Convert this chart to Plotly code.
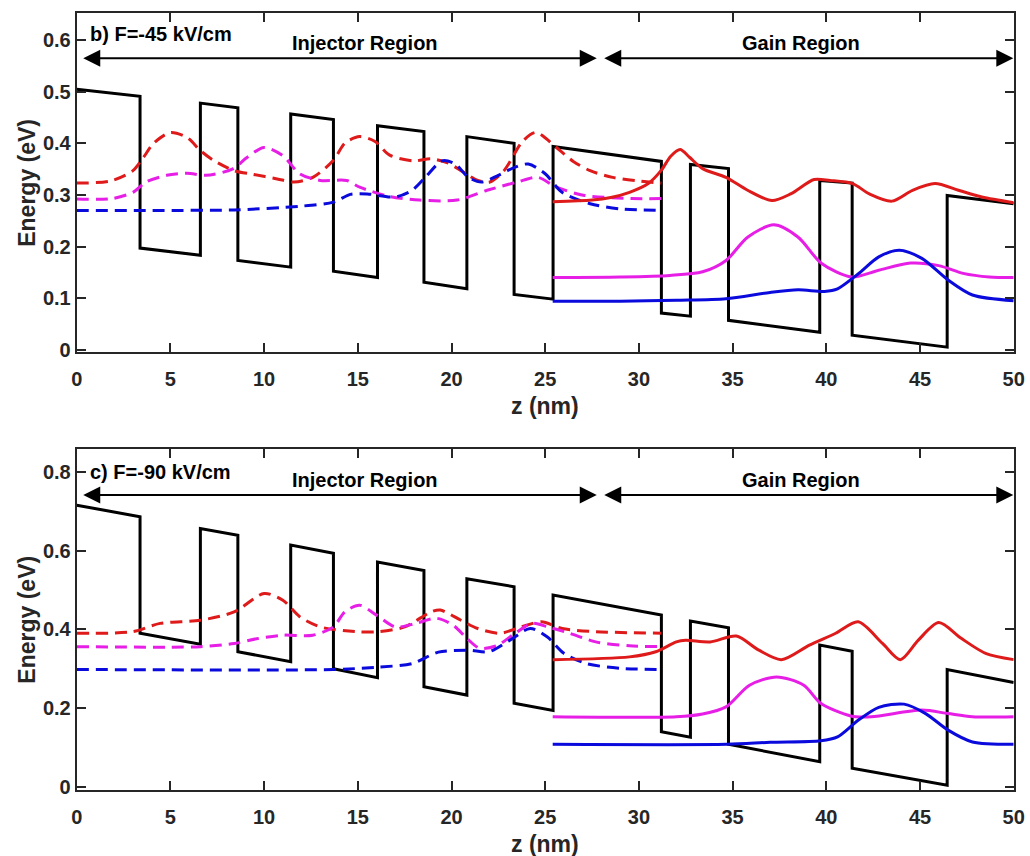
import plotly.graph_objects as go

# ---------------- conduction band edge (same layer sequence in both panels) ----------------
Z_CB = [0, 3.38, 3.38, 6.6, 6.6, 8.6, 8.6, 11.42, 11.42, 13.7, 13.7, 16.05, 16.05,
        18.53, 18.53, 20.82, 20.82, 23.34, 23.34, 25.42, 25.42, 31.2, 31.2, 32.75,
        32.75, 34.78, 34.78, 39.65, 39.65, 41.38, 41.38, 46.45, 46.45, 50]
E_CB_45 = [0.505, 0.491, 0.197, 0.183, 0.478, 0.469, 0.173, 0.160, 0.457, 0.446,
           0.152, 0.140, 0.434, 0.423, 0.131, 0.118, 0.413, 0.400, 0.107, 0.098,
           0.394, 0.365, 0.071, 0.065, 0.359, 0.351, 0.057, 0.034, 0.328, 0.323,
           0.028, 0.005, 0.299, 0.283]
E_CB_90 = [0.715, 0.686, 0.390, 0.362, 0.656, 0.639, 0.343, 0.318, 0.614, 0.593,
           0.300, 0.277, 0.571, 0.549, 0.254, 0.233, 0.528, 0.508, 0.212, 0.194,
           0.487, 0.436, 0.140, 0.126, 0.421, 0.404, 0.108, 0.064, 0.360, 0.344,
           0.047, 0.004, 0.298, 0.265]

# ---------------- F = -45 kV/cm : injector states (dashed) ----------------
Z_RED_INJ_45 = [0, 1.8, 3.0, 3.55, 4.1, 5.0, 5.9, 6.6, 7.3, 8.4, 9.4, 10.7, 11.6, 12.6,
                13.7, 14.3, 15.1, 15.9, 16.7, 18.0, 18.9, 19.8, 20.6, 21.4, 22.05,
                22.8, 23.8, 24.5, 25.6, 26.5, 27.4, 28.6, 30.0, 31.2]
E_RED_INJ_45 = [0.323, 0.327, 0.347, 0.372, 0.400, 0.421, 0.411, 0.386, 0.367, 0.347,
                0.340, 0.331, 0.325, 0.334, 0.367, 0.400, 0.413, 0.404, 0.377, 0.366,
                0.370, 0.362, 0.345, 0.328, 0.325, 0.347, 0.404, 0.421, 0.392, 0.365,
                0.347, 0.334, 0.327, 0.323]
Z_MAG_INJ_45 = [0, 1.9, 3.0, 3.7, 4.8, 5.9, 6.9, 8.3, 9.1, 10.0, 11.0, 11.9, 13.0, 14.4,
                15.1, 16.7, 18.3, 20.3, 21.9, 23.5, 24.6, 25.6, 27.1, 29.6, 31.2]
E_MAG_INJ_45 = [0.292, 0.293, 0.305, 0.325, 0.338, 0.342, 0.338, 0.350, 0.373, 0.392,
                0.376, 0.341, 0.328, 0.328, 0.315, 0.297, 0.290, 0.290, 0.309, 0.325,
                0.334, 0.315, 0.299, 0.293, 0.293]
Z_BLU_INJ_45 = [0, 4.0, 8.4, 11.9, 13.7, 14.6, 15.5, 17.0, 17.9, 18.6, 19.5, 20.2, 20.9,
                21.6, 22.5, 23.4, 24.1, 25.0, 25.9, 27.4, 29.0, 31.2]
E_BLU_INJ_45 = [0.270, 0.270, 0.271, 0.278, 0.286, 0.301, 0.302, 0.296, 0.309, 0.334,
                0.366, 0.360, 0.334, 0.325, 0.338, 0.354, 0.360, 0.341, 0.305, 0.283,
                0.273, 0.270]

# ---------------- F = -45 kV/cm : gain states (solid) ----------------
Z_RED_GAIN_45 = [25.4, 27.5, 28.5, 29.5, 30.5, 31.2, 31.7, 32.2, 32.7, 33.4, 34.65, 35.8,
                 37.1, 38.1, 39.35, 40.2, 41.4, 42.3, 43.5, 44.6, 45.8, 47.05, 48.3, 50]
E_RED_GAIN_45 = [0.287, 0.290, 0.295, 0.305, 0.322, 0.348, 0.375, 0.388, 0.373, 0.351,
                 0.334, 0.309, 0.289, 0.302, 0.330, 0.328, 0.322, 0.302, 0.288, 0.309,
                 0.322, 0.309, 0.296, 0.285]
Z_MAG_GAIN_45 = [25.4, 29.0, 31.66, 33.4, 34.65, 35.8, 37.2, 38.5, 39.75, 41.35, 42.8,
                 44.5, 46.0, 47.3, 48.7, 50]
E_MAG_GAIN_45 = [0.140, 0.141, 0.144, 0.151, 0.173, 0.218, 0.242, 0.218, 0.167, 0.141,
                 0.154, 0.168, 0.163, 0.148, 0.141, 0.140]
Z_BLU_GAIN_45 = [25.4, 29.0, 32.0, 34.65, 37.0, 38.5, 39.9, 40.6, 41.7, 42.8, 43.9, 45.1,
                 46.5, 47.8, 50]
E_BLU_GAIN_45 = [0.094, 0.094, 0.096, 0.099, 0.111, 0.116, 0.113, 0.118, 0.147, 0.180,
                 0.193, 0.177, 0.135, 0.106, 0.095]

# ---------------- F = -90 kV/cm : injector states (dashed) ----------------
Z_RED_INJ_90 = [0, 3.0, 4.45, 6.6, 8.4, 10.0, 11.0, 11.9, 13.0, 14.9, 16.1, 17.5, 18.9,
                19.4, 20.5, 21.4, 22.6, 23.7, 24.8, 25.9, 27.7, 31.2]
E_RED_INJ_90 = [0.390, 0.394, 0.415, 0.423, 0.444, 0.491, 0.474, 0.432, 0.406, 0.394,
                0.394, 0.406, 0.444, 0.449, 0.423, 0.402, 0.390, 0.406, 0.419, 0.402,
                0.394, 0.390]
Z_MAG_INJ_90 = [0, 6.6, 8.4, 9.6, 11.0, 12.6, 13.7, 14.3, 15.1, 16.0, 17.0, 18.1, 19.2,
                20.1, 20.8, 21.5, 22.4, 23.4, 24.3, 25.2, 26.3, 27.7, 29.5, 31.2]
E_MAG_INJ_90 = [0.356, 0.356, 0.364, 0.376, 0.385, 0.385, 0.406, 0.444, 0.461, 0.436,
                0.406, 0.415, 0.428, 0.410, 0.378, 0.352, 0.358, 0.390, 0.415, 0.405,
                0.390, 0.368, 0.358, 0.356]
Z_BLU_INJ_90 = [0, 13.7, 16.1, 17.9, 19.3, 20.9, 22.0, 23.1, 24.2, 25.1, 26.0, 27.2,
                29.0, 31.2]
E_BLU_INJ_90 = [0.298, 0.298, 0.304, 0.313, 0.342, 0.347, 0.343, 0.372, 0.402, 0.381,
                0.339, 0.313, 0.301, 0.298]

# ---------------- F = -90 kV/cm : gain states (solid) ----------------
Z_RED_GAIN_90 = [25.4, 29.5, 30.9, 32.0, 32.5, 33.8, 35.2, 36.4, 37.6, 39.1, 40.5, 41.7,
                 43.0, 43.95, 44.9, 46.0, 47.2, 48.5, 50]
E_RED_GAIN_90 = [0.323, 0.330, 0.343, 0.368, 0.372, 0.368, 0.383, 0.347, 0.323, 0.360,
                 0.390, 0.419, 0.364, 0.323, 0.372, 0.417, 0.377, 0.339, 0.323]
Z_MAG_GAIN_90 = [25.4, 32.0, 33.4, 34.65, 35.9, 37.35, 38.8, 39.7, 41.3, 42.4, 45.1,
                 46.5, 47.8, 50]
E_MAG_GAIN_90 = [0.178, 0.178, 0.185, 0.203, 0.258, 0.279, 0.258, 0.212, 0.180, 0.178,
                 0.195, 0.186, 0.178, 0.178]
Z_BLU_GAIN_90 = [25.4, 34.7, 37.0, 39.7, 40.6, 41.7, 42.8, 44.15, 45.3, 46.5, 47.8, 50]
E_BLU_GAIN_90 = [0.108, 0.108, 0.113, 0.117, 0.127, 0.169, 0.202, 0.210, 0.186, 0.144,
                 0.114, 0.108]

# ---------------- axis ticks and labels ----------------
X_TICKS = [0, 5, 10, 15, 20, 25, 30, 35, 40, 45, 50]
Y_TICKS_45 = [0, 0.1, 0.2, 0.3, 0.4, 0.5, 0.6]
Y_TICKS_90 = [0, 0.2, 0.4, 0.6, 0.8]
PANEL_LABELS = ["b) F=-45 kV/cm", "c) F=-90 kV/cm"]
REGION_LABELS = ["Injector Region", "Gain Region"]

# ---------------- style ----------------
FONT = "Arial, 'Liberation Sans', Helvetica, sans-serif"
AXC = "#262626"
RED = "#DE1A1A"
MAG = "#E61EE6"
BLU = "#0A0ADC"
DASH = "12px,7px"
W, H = 1030, 856


def px_x(p):
    return p / W


def px_y(p):
    return 1 - p / H


fig = go.Figure()

panels = [
    dict(xa="x", ya="y", cb=E_CB_45, curves=[
        (Z_RED_INJ_45, E_RED_INJ_45, RED, DASH), (Z_MAG_INJ_45, E_MAG_INJ_45, MAG, DASH),
        (Z_BLU_INJ_45, E_BLU_INJ_45, BLU, DASH), (Z_RED_GAIN_45, E_RED_GAIN_45, RED, "solid"),
        (Z_MAG_GAIN_45, E_MAG_GAIN_45, MAG, "solid"), (Z_BLU_GAIN_45, E_BLU_GAIN_45, BLU, "solid")]),
    dict(xa="x2", ya="y2", cb=E_CB_90, curves=[
        (Z_RED_INJ_90, E_RED_INJ_90, RED, DASH), (Z_MAG_INJ_90, E_MAG_INJ_90, MAG, DASH),
        (Z_BLU_INJ_90, E_BLU_INJ_90, BLU, DASH), (Z_RED_GAIN_90, E_RED_GAIN_90, RED, "solid"),
        (Z_MAG_GAIN_90, E_MAG_GAIN_90, MAG, "solid"), (Z_BLU_GAIN_90, E_BLU_GAIN_90, BLU, "solid")]),
]

for p in panels:
    fig.add_trace(go.Scatter(x=Z_CB, y=p["cb"], mode="lines", xaxis=p["xa"], yaxis=p["ya"],
                             line=dict(color="black", width=3), showlegend=False,
                             hoverinfo="skip"))
    for z, e, c, d in p["curves"]:
        fig.add_trace(go.Scatter(x=z, y=e, mode="lines", xaxis=p["xa"], yaxis=p["ya"],
                                 line=dict(color=c, width=3, dash=d, shape="spline",
                                           smoothing=0.8),
                                 showlegend=False, hoverinfo="skip"))


def axis_style():
    return dict(showline=True, linewidth=2, linecolor=AXC, mirror="ticks",
                ticks="inside", ticklen=9, tickwidth=2, tickcolor=AXC,
                showgrid=False, zeroline=False, automargin=False,
                tickfont=dict(family=FONT, size=20, color=AXC, weight="bold"))


x_dom = [px_x(76.7), px_x(1013.7)]
fig.update_layout(
    template="none",
    width=W, height=H, autosize=False, margin=dict(l=0, r=0, t=0, b=0, pad=0),
    paper_bgcolor="white", plot_bgcolor="white", showlegend=False,
    xaxis=dict(domain=x_dom, range=[0, 50], tickvals=X_TICKS, anchor="y",
               ticklabelstandoff=8, **axis_style()),
    yaxis=dict(domain=[px_y(352.3), px_y(13.3)], range=[-0.005, 0.652], anchor="x",
               tickvals=Y_TICKS_45, ticktext=[f"{v:g}" for v in Y_TICKS_45], **axis_style()),
    xaxis2=dict(domain=x_dom, range=[0, 50], tickvals=X_TICKS, anchor="y2",
                ticklabelstandoff=8, **axis_style()),
    yaxis2=dict(domain=[px_y(790), px_y(449.3)], range=[-0.008, 0.857], anchor="x2",
                tickvals=Y_TICKS_90, ticktext=[f"{v:g}" for v in Y_TICKS_90], **axis_style()),
)

ann = []
text_font = dict(family=FONT, size=20, color="black", weight="bold")
title_font = dict(family=FONT, size=23, color=AXC, weight="bold")

# region arrows and labels, per panel: (xref, yref, arrow level, label level, panel label level)
for (xr, yr, y_arr, y_lab, y_pan), lab in zip(
        [("x", "y", 0.565, 0.594, 0.612), ("x2", "y2", 0.741, 0.779, 0.800)], PANEL_LABELS):
    for x0, x1 in [(0.27, 27.75), (28.07, 49.98)]:
        ann.append(dict(x=x1, y=y_arr, ax=x0, ay=y_arr, xref=xr, yref=yr, axref=xr, ayref=yr,
                        text="", showarrow=True, arrowside="end+start",
                        arrowhead=2, startarrowhead=2, arrowsize=1.7, startarrowsize=1.7,
                        arrowwidth=2, arrowcolor="black", standoff=0, startstandoff=0))
    ann.append(dict(x=15.37, y=y_lab, xref=xr, yref=yr, text=REGION_LABELS[0],
                    xanchor="center", yanchor="middle", showarrow=False, font=text_font))
    ann.append(dict(x=38.64, y=y_lab, xref=xr, yref=yr, text=REGION_LABELS[1],
                    xanchor="center", yanchor="middle", showarrow=False, font=text_font))
    ann.append(dict(x=0.6, y=y_pan, xref=xr, yref=yr, text=lab, xanchor="left",
                    yanchor="middle", showarrow=False, font=text_font))

# axis titles
for yc in [(13.3 + 352.3) / 2, (449.3 + 790) / 2]:
    ann.append(dict(x=px_x(27), y=px_y(yc), xref="paper", yref="paper", text="Energy (eV)",
                    xanchor="center", yanchor="middle", textangle=-90, showarrow=False,
                    font=title_font))
for yc in [406, 844]:
    ann.append(dict(x=px_x(545), y=px_y(yc), xref="paper", yref="paper", text="z (nm)",
                    xanchor="center", yanchor="middle", showarrow=False, font=title_font))

fig.update_layout(annotations=ann)
fig.write_html("out.html")
